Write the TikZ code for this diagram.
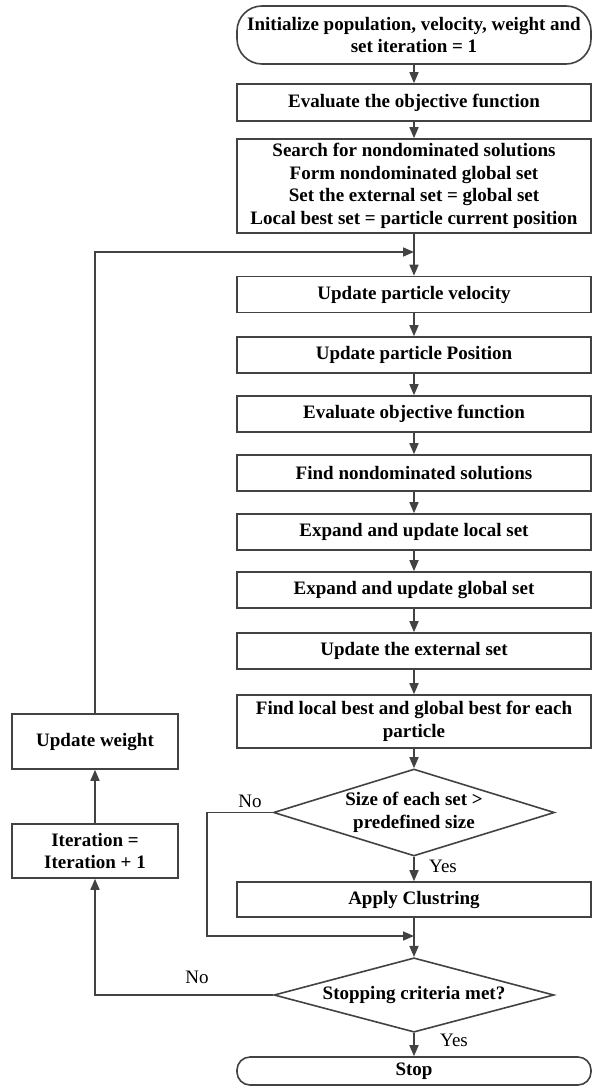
\documentclass[tikz,border=0pt]{standalone}
\usepackage{fontspec}
\setmainfont{Liberation Serif}
\usetikzlibrary{shapes.geometric,arrows.meta}
\definecolor{ln}{HTML}{424242}
\tikzset{
  base/.style={draw=ln, line width=1.6pt, align=center, inner sep=2pt, font=\fontsize{19}{22.6}\selectfont\bfseries},
  box/.style={base, rectangle, minimum width=354pt},
  sbox/.style={base, rectangle, minimum width=166pt},
  term/.style={base, rectangle, minimum width=354pt, rounded corners=25pt},
  dec/.style={base, diamond, inner sep=0pt, aspect=3.2},
  lbl/.style={font=\fontsize{19}{22}\selectfont},
  arr/.style={draw=ln, line width=1.6pt, -{Triangle[length=11pt,width=9pt]}},
  ln/.style={draw=ln, line width=1.6pt},
}
\begin{document}
\begin{tikzpicture}[x=1pt,y=-1pt]
\useasboundingbox (0,0) rectangle (592,1086);
\node[term, minimum height=58pt] (start) at (414,35) {Initialize population, velocity, weight and\\set iteration = 1};
\node[box, minimum height=37pt] (b2) at (414,102.5) {Evaluate the objective function};
\node[box, minimum height=94pt] (b3) at (414,186) {Search for nondominated solutions\\Form nondominated global set\\Set the external set = global set\\Local best set = particle current position};
\node[box, minimum height=36pt] (b4) at (414,294.5) {Update particle velocity};
\node[box, minimum height=36pt] (b5) at (414,355) {Update particle Position};
\node[box, minimum height=36pt] (b6) at (414,414) {Evaluate objective function};
\node[box, minimum height=36pt] (b7) at (414,473) {Find nondominated solutions};
\node[box, minimum height=36pt] (b8) at (414,532) {Expand and update local set};
\node[box, minimum height=36pt] (b9) at (414,590) {Expand and update global set};
\node[box, minimum height=36pt] (b10) at (414,651) {Update the external set};
\node[box, minimum height=53pt] (b11) at (414,721.5) {Find local best and global best for each\\particle};
\node[dec, minimum width=281pt, minimum height=87pt] (d1) at (414,812.5) {Size of each set >\\predefined size};
\node[box, minimum height=35pt] (b12) at (414,899.5) {Apply Clustring};
\node[dec, minimum width=280pt, minimum height=68pt] (d2) at (414,995) {Stopping criteria met?};
\node[term, minimum height=28pt, rounded corners=13pt] (stop) at (414,1071) {Stop};
\node[sbox, minimum height=55pt] (uw) at (95,741.5) {Update weight};
\node[sbox, minimum height=54pt] (it) at (95,851) {Iteration =\\Iteration + 1};

\coordinate (m1) at (414,252);
\coordinate (m2) at (414,936);
\coordinate (l1) at (95,252);
\coordinate (l2) at (207,812.5);
\coordinate (l3) at (207,936);
\coordinate (l4) at (95,995);

\draw[arr] (start) -- (b2);
\draw[arr] (b2) -- (b3);
\draw[arr] (b3) -- (b4);
\draw[arr] (b4) -- (b5);
\draw[arr] (b5) -- (b6);
\draw[arr] (b6) -- (b7);
\draw[arr] (b7) -- (b8);
\draw[arr] (b8) -- (b9);
\draw[arr] (b9) -- (b10);
\draw[arr] (b10) -- (b11);
\draw[arr] (b11) -- (d1);
\draw[arr] (d1) -- (b12);
\draw[arr] (b12) -- (d2);
\draw[arr] (d2) -- (stop);
\draw[arr] (d1.west) -- (l2) -- (l3) -- (m2);
\draw[arr] (d2.west) -- (l4) -- (it.south);
\draw[arr] (it) -- (uw);
\draw[arr] (uw.north) -- (l1) -- (m1);

\node[lbl] (no1) at (250,801) {No};
\node[lbl] (yes1) at (443,866) {Yes};
\node[lbl] (no2) at (197,977) {No};
\node[lbl] (yes2) at (454,1040) {Yes};
\end{tikzpicture}
\end{document}
